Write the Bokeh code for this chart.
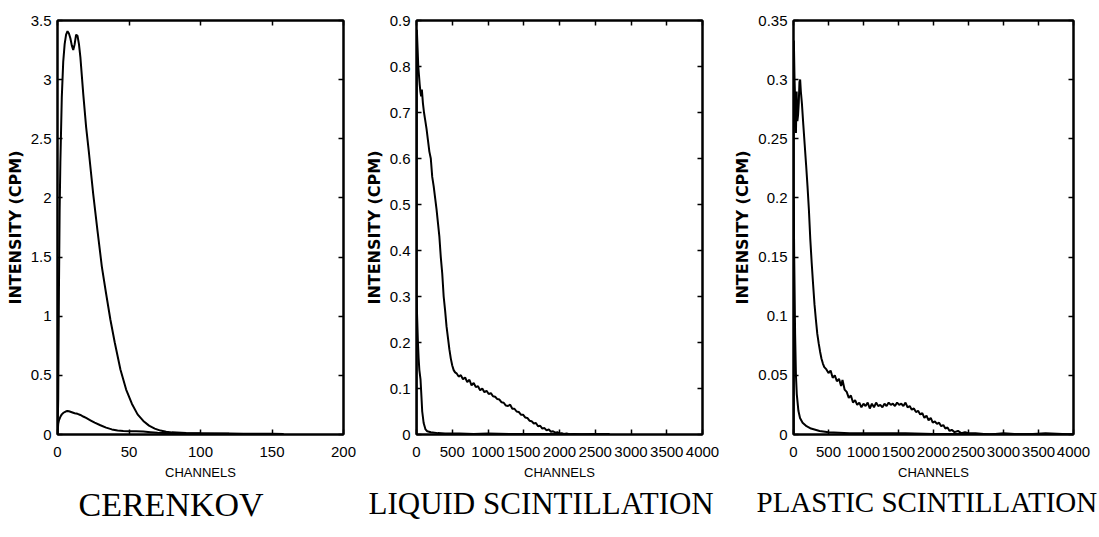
from bokeh.plotting import figure
from bokeh.layouts import row
from bokeh.models import (FixedTicker, LinearAxis, CustomJSTickFormatter, Range1d, Title,
                          CustomLabelingPolicy)
from bokeh.embed import file_html
from bokeh.resources import INLINE

# ---------------- data ----------------
panel_titles = ["CERENKOV", "LIQUID SCINTILLATION", "PLASTIC SCINTILLATION"]
x_label = "CHANNELS"
y_label = "INTENSITY (CPM)"

cer_xticks = [0, 50, 100, 150, 200]
cer_yticks = [0, 0.5, 1, 1.5, 2, 2.5, 3, 3.5]
cer_main_x = [0, 0.5, 1, 1.5, 2, 3, 4, 5, 6, 7, 8, 9, 10, 11, 12, 13, 14, 15, 16, 18, 20, 22, 25, 28, 31, 34, 37, 40,
              44, 48, 52, 56, 60, 64, 68, 72, 76, 80, 90, 100, 110, 120, 130, 140, 150, 158]
cer_main_y = [0.0, 0.3, 1.2, 1.9, 2.3, 2.85, 3.15, 3.3, 3.38, 3.41, 3.39, 3.35, 3.29, 3.25, 3.3, 3.38, 3.37, 3.3,
              3.19, 2.88, 2.6, 2.38, 2.03, 1.72, 1.42, 1.19, 0.97, 0.78, 0.55, 0.38, 0.26, 0.17, 0.115, 0.075,
              0.05, 0.033, 0.024, 0.018, 0.013, 0.01, 0.009, 0.008, 0.007, 0.006, 0.006, 0.005]
cer_small_x = [0, 0.5, 1, 2, 3, 4, 5, 6, 7, 8, 10, 12, 14, 16, 18, 20, 23, 26, 30, 34, 38, 42, 46, 50, 55, 60,
               65, 70, 80, 100, 120, 140, 158]
cer_small_y = [0.0, 0.09, 0.12, 0.15, 0.17, 0.182, 0.19, 0.196, 0.198, 0.196, 0.188, 0.18, 0.175, 0.165, 0.152,
               0.14, 0.12, 0.1, 0.078, 0.058, 0.043, 0.034, 0.03, 0.028, 0.027, 0.025, 0.02, 0.015, 0.01, 0.008,
               0.006, 0.005, 0.004]

liq_xticks = [0, 500, 1000, 1500, 2000, 2500, 3000, 3500, 4000]
liq_yticks = [0, 0.1, 0.2, 0.3, 0.4, 0.5, 0.6, 0.7, 0.8, 0.9]
liq_main_x = [0, 5, 15, 25, 35, 45, 55, 65, 75, 90, 105, 120, 140, 160, 180, 200, 220, 240, 260, 280, 300, 320,
              340, 360, 380, 400, 420, 440, 460, 480, 500, 520, 540, 560, 590, 620, 650, 680, 710, 740, 770, 800,
              830, 860, 890, 920, 950, 980, 1010, 1040, 1070, 1100, 1130, 1160, 1190, 1220, 1250, 1280, 1310,
              1340, 1370, 1400, 1430, 1460, 1490, 1520, 1550, 1580, 1610, 1640, 1670, 1700, 1730, 1760, 1790,
              1820, 1850, 1880, 1910, 1940, 1970, 2000, 2030, 2060, 2100, 2150, 2200, 2300, 2500, 2700]
liq_main_y = [0.0, 0.88, 0.84, 0.8, 0.78, 0.76, 0.745, 0.735, 0.75, 0.72, 0.7, 0.685, 0.665, 0.64, 0.615, 0.6,
              0.56, 0.54, 0.515, 0.49, 0.46, 0.43, 0.385, 0.35, 0.3, 0.27, 0.235, 0.21, 0.185, 0.165, 0.15, 0.14,
              0.135, 0.133, 0.126, 0.129, 0.12, 0.124, 0.114, 0.119, 0.107, 0.112, 0.103, 0.105, 0.096, 0.1,
              0.092, 0.095, 0.088, 0.09, 0.083, 0.082, 0.077, 0.076, 0.07, 0.069, 0.063, 0.062, 0.065, 0.056,
              0.056, 0.05, 0.049, 0.043, 0.043, 0.037, 0.036, 0.03, 0.029, 0.024, 0.025, 0.018, 0.019, 0.013,
              0.014, 0.009, 0.011, 0.006, 0.007, 0.004, 0.005, 0.002, 0.003, 0.001, 0.002, 0.0, 0.001, 0.0,
              0.001, 0.0]
liq_small_x = [0, 10, 20, 30, 40, 56, 70, 80, 100, 126, 150, 200, 300, 400, 600, 800, 1000, 1300, 1600, 2000,
               2400, 2700]
liq_small_y = [0.3, 0.25, 0.2, 0.165, 0.14, 0.12, 0.08, 0.05, 0.025, 0.011, 0.007, 0.005, 0.003, 0.002, 0.002,
               0.001, 0.002, 0.001, 0.001, 0.001, 0.0, 0.001]

pla_xticks = [0, 500, 1000, 1500, 2000, 2500, 3000, 3500, 4000]
pla_yticks = [0, 0.05, 0.1, 0.15, 0.2, 0.25, 0.3, 0.35]
pla_main_x = [0, 5, 15, 25, 35, 45, 55, 65, 75, 85, 95, 105, 120, 140, 160, 180, 200, 220, 240, 260, 280, 300,
              320, 340, 360, 380, 400, 420, 440, 470, 500, 530, 560, 590, 620, 650, 680, 700, 730, 760, 790, 820,
              850, 880, 910, 940, 970, 1000, 1030, 1060, 1090, 1120, 1150, 1180, 1210, 1240, 1270, 1300, 1330,
              1360, 1390, 1420, 1450, 1480, 1510, 1540, 1570, 1600, 1630, 1660, 1690, 1720, 1750, 1780, 1810,
              1840, 1870, 1900, 1930, 1960, 1990, 2020, 2050, 2080, 2110, 2140, 2170, 2200, 2230, 2260, 2300,
              2350, 2400, 2450, 2500, 2600, 2800, 3000, 3300, 3600, 4000]
pla_main_y = [0.0, 0.333, 0.3, 0.28, 0.255, 0.29, 0.265, 0.27, 0.28, 0.298, 0.3, 0.29, 0.28, 0.262, 0.245,
              0.228, 0.21, 0.19, 0.165, 0.145, 0.127, 0.11, 0.097, 0.085, 0.077, 0.07, 0.064, 0.06, 0.057, 0.055,
              0.052, 0.054, 0.048, 0.05, 0.045, 0.047, 0.041, 0.046, 0.038, 0.036, 0.031, 0.033, 0.027, 0.029,
              0.025, 0.027, 0.023, 0.026, 0.024, 0.027, 0.022, 0.026, 0.023, 0.027, 0.024, 0.025, 0.023, 0.026,
              0.024, 0.027, 0.025, 0.026, 0.024, 0.027, 0.025, 0.026, 0.024, 0.027, 0.023, 0.024, 0.021, 0.022,
              0.019, 0.02, 0.017, 0.018, 0.014, 0.016, 0.012, 0.014, 0.01, 0.011, 0.009, 0.01, 0.007, 0.008,
              0.005, 0.006, 0.003, 0.004, 0.002, 0.003, 0.001, 0.002, 0.001, 0.001, 0.0, 0.001, 0.0, 0.001, 0.0]
pla_small_x = [0, 3, 10, 23, 35, 47, 70, 93, 130, 186, 250, 373, 500, 800, 1200, 1600, 2000, 2500, 3000, 3500,
               4000]
pla_small_y = [0.0, 0.198, 0.15, 0.085, 0.05, 0.034, 0.02, 0.014, 0.01, 0.007, 0.005, 0.003, 0.002, 0.001,
               0.001, 0.001, 0.0005, 0.0005, 0.0, 0.0005, 0.0]

# ---------------- styling ----------------
TICK_FONT = "Liberation Sans"
fmt_code = "return String(Math.round(tick*1000)/1000)"
hide_code = """
try { for (const i of Array.from(indices)) { indices.unset(i) } } catch (e) {}
return indices
"""


def style_axis(ax, ticks, show_labels):
    ax.ticker = FixedTicker(ticks=ticks)
    ax.major_tick_in = 5
    ax.major_tick_out = 0
    ax.minor_tick_in = 0
    ax.minor_tick_out = 0
    ax.axis_line_color = "black"
    ax.axis_line_width = 2
    ax.major_tick_line_color = "black"
    ax.major_tick_line_width = 1.5
    if show_labels:
        ax.formatter = CustomJSTickFormatter(code=fmt_code)
        ax.major_label_text_font = TICK_FONT
        ax.major_label_text_font_size = "15px"
        ax.major_label_text_color = "black"
        ax.major_label_standoff = 12
    else:
        ax.formatter = CustomJSTickFormatter(code="return ''")
        ax.major_label_policy = CustomLabelingPolicy(code=hide_code)
        ax.major_label_text_font_size = "8px"
        ax.major_label_standoff = 0


def make_panel(title, xmax, xticks, ymax, yticks, curves, right_border, title_size, title_offset):
    p = figure(width=57 + 286 + right_border, height=537, output_backend="svg", toolbar_location=None,
               title=None, x_range=Range1d(0, xmax), y_range=Range1d(0, ymax),
               min_border_left=57, min_border_right=right_border, min_border_top=20, min_border_bottom=103)
    p.grid.visible = False
    p.outline_line_color = "black"
    p.outline_line_width = 2
    p.background_fill_color = "white"
    p.border_fill_color = "white"

    style_axis(p.xaxis[0], xticks, True)
    style_axis(p.yaxis[0], yticks, True)
    p.yaxis[0].major_label_standoff = 6
    p.xaxis[0].axis_label = x_label
    p.xaxis[0].axis_label_text_font = TICK_FONT
    p.xaxis[0].axis_label_text_font_size = "13px"
    p.xaxis[0].axis_label_text_font_style = "normal"
    p.xaxis[0].axis_label_text_color = "black"
    p.xaxis[0].axis_label_standoff = 5
    p.yaxis[0].axis_label = y_label
    p.yaxis[0].axis_label_text_font = "DejaVu Sans"
    p.yaxis[0].axis_label_text_font_size = "16px"
    p.yaxis[0].axis_label_text_font_style = "bold"
    p.yaxis[0].axis_label_text_color = "black"
    p.yaxis[0].axis_label_standoff = 3

    top = LinearAxis()
    style_axis(top, xticks, False)
    p.add_layout(top, "above")
    right = LinearAxis()
    style_axis(right, yticks, False)
    p.add_layout(right, "right")

    for cx, cy in curves:
        p.line(cx, cy, line_color="black", line_width=2)

    t = Title(text=title, align="left", text_font="Liberation Serif", text_font_size=title_size,
              text_font_style="normal", text_color="black", standoff=3, offset=title_offset)
    p.add_layout(t, "below")
    return p


p1 = make_panel(panel_titles[0], 200, cer_xticks, 3.5, cer_yticks,
                [(cer_main_x, cer_main_y), (cer_small_x, cer_small_y)], 16, "34px", 21)
p2 = make_panel(panel_titles[1], 4000, liq_xticks, 0.9, liq_yticks,
                [(liq_main_x, liq_main_y), (liq_small_x, liq_small_y)], 28, "31px", -48)
p3 = make_panel(panel_titles[2], 4000, pla_xticks, 0.35, pla_yticks,
                [(pla_main_x, pla_main_y), (pla_small_x, pla_small_y)], 26, "29px", -37)

layout = row(p1, p2, p3, spacing=0)
open("out.html", "w").write(file_html(layout, INLINE))
